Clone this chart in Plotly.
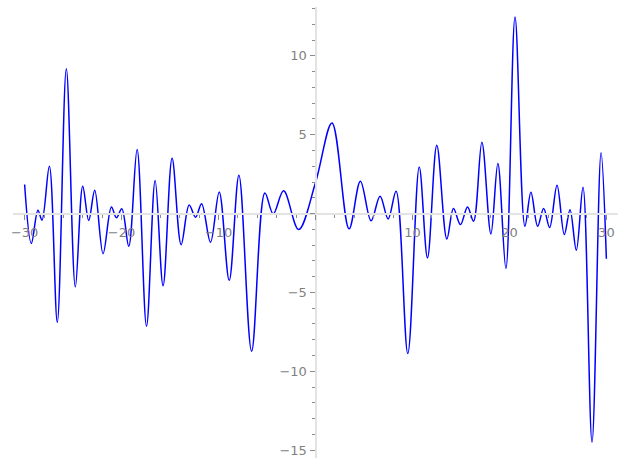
import plotly.graph_objects as go

# Curve samples (local extrema and a few shape points)
x_vals = [-30.0, -29.31, -28.63, -28.21, -27.45, -26.63, -25.70, -24.77, -24.01, -23.39,
          -22.77, -21.91, -21.05, -20.53, -19.98, -19.26, -18.40, -17.43, -16.54, -15.72,
          -14.79, -13.86, -13.03, -12.37, -11.75, -10.83, -9.93, -8.90, -7.90, -6.59,
          -5.22, -4.36, -3.29, -1.74, 0.0, 1.70, 3.46, 4.63, 5.73, 6.66,
          7.49, 8.31, 9.52, 10.70, 11.55, 12.51, 13.55, 14.23, 14.95, 15.68,
          16.30, 17.16, 18.09, 18.81, 19.64, 20.58, 21.60, 22.22, 22.91, 23.53,
          24.15, 24.91, 25.66, 26.25, 26.90, 27.59, 28.52, 29.45, 30.0]
y_vals = [1.84, -1.90, 0.21, -0.42, 3.00, -6.89, 9.19, -4.65, 1.73, -0.44,
          1.48, -2.54, 0.42, -0.27, 0.30, -2.07, 4.06, -7.14, 2.09, -4.57,
          3.51, -1.97, 0.55, -0.23, 0.63, -1.82, 1.37, -4.23, 2.43, -8.73,
          1.31, -0.02, 1.44, -1.01, 1.95, 5.75, -0.97, 2.05, -0.46, 1.10,
          -0.34, 1.42, -8.88, 2.96, -2.81, 4.33, -1.61, 0.32, -0.70, 0.42,
          -0.49, 4.52, -1.29, 3.17, -3.49, 12.47, -0.80, 1.35, -0.80, 0.32,
          -0.89, 1.80, -1.33, 0.25, -2.33, 1.67, -14.50, 3.85, -2.87]

x_ticks = [-30, -20, -10, 0, 10, 20, 30]
x_tick_text = ["\u221230", "\u221220", "\u221210", "", "10", "20", "30"]
y_ticks = [-15, -10, -5, 0, 5, 10]
y_tick_text = ["\u221215", "\u221210", "\u22125", "", "5", "10"]

x_range = [-31.2, 31.2]
y_range = [-15.5, 13.1]

axis_col = "#e3e3e3"
tick_col = "#8a8a8a"
label_col = "#7f7f7f"
font = dict(family="DejaVu Sans", size=13, color=label_col)

fig = go.Figure()
fig.add_trace(go.Scatter(x=x_vals, y=y_vals, mode="lines",
                         line=dict(color="#0000ff", width=1.5, shape="spline", smoothing=1.0),
                         hoverinfo="skip", showlegend=False))

fig.update_layout(
    width=627, height=469,
    margin=dict(l=13, r=9, t=7, b=11, autoexpand=False),
    paper_bgcolor="white", plot_bgcolor="white",
    showlegend=False,
    xaxis=dict(range=x_range, showgrid=False, zeroline=False, automargin=False,
               showline=True, linecolor=axis_col, linewidth=2,
               anchor="free", position=(0 - y_range[0]) / (y_range[1] - y_range[0]),
               side="bottom",
               tickmode="array", tickvals=x_ticks, ticktext=x_tick_text,
               ticks="outside", ticklen=5, tickwidth=1, tickcolor=tick_col,
               tickfont=font, ticklabelstandoff=2,
               minor=dict(tickmode="linear", tick0=0, dtick=2, ticks="outside",
                          ticklen=3, tickwidth=1, tickcolor=tick_col)),
    yaxis=dict(range=y_range, showgrid=False, zeroline=False, automargin=False,
               showline=True, linecolor=axis_col, linewidth=2,
               anchor="free", position=(0 - x_range[0]) / (x_range[1] - x_range[0]),
               side="left",
               tickmode="array", tickvals=y_ticks, ticktext=y_tick_text,
               ticks="outside", ticklen=5, tickwidth=1, tickcolor=tick_col,
               tickfont=font,
               minor=dict(tickmode="linear", tick0=0, dtick=1, ticks="outside",
                          ticklen=3, tickwidth=1, tickcolor=tick_col)),
)

fig.write_html("out.html", config={"displayModeBar": False},
               post_script="document.body.style.margin='0';")
